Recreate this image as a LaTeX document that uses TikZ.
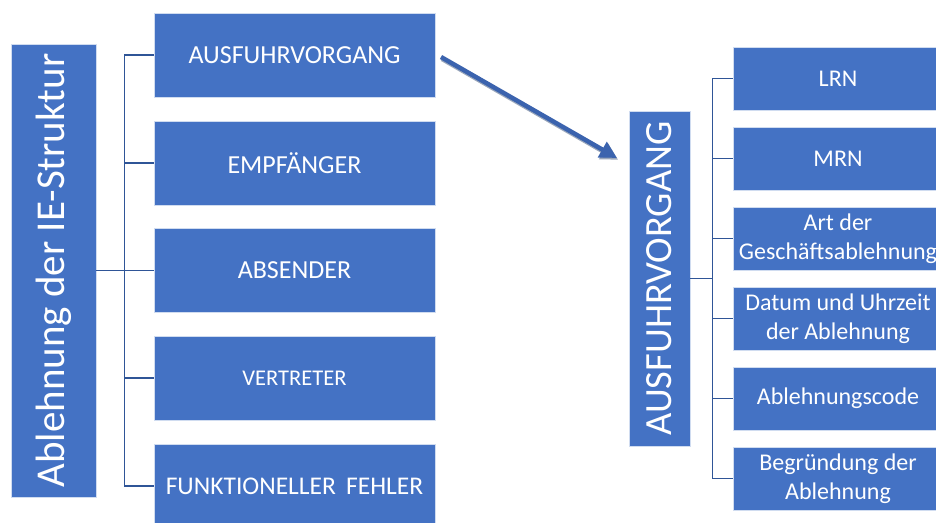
\documentclass[tikz,border=0pt]{standalone}
\usepackage{fontspec}
\setmainfont{Carlito}
\usetikzlibrary{arrows.meta}
\definecolor{boxblue}{HTML}{4472C4}
\definecolor{linkblue}{HTML}{2F5597}
\definecolor{arrowblue}{HTML}{3B63AE}
\begin{document}
\begin{tikzpicture}[x=1pt,y=-1pt,
  blk/.style={fill=boxblue, draw=white!75!boxblue, line width=0.6pt, text=white, align=center, inner sep=0pt, anchor=center},
  midbox/.style={blk, minimum width=281pt, minimum height=84pt, font=\fontsize{26}{31}\selectfont},
  rbox/.style={blk, minimum width=210pt, minimum height=63pt, font=\fontsize{24}{29}\selectfont},
  conn/.style={draw=linkblue, line width=1.3pt}]
\clip (0,0) rectangle (936,522);
\fill[white] (0,0) rectangle (936,522);

% left column
\node[blk, minimum width=85pt, minimum height=453pt] (L) at (53.5,270.5)
  {\rotatebox{90}{\fontsize{41}{49}\selectfont Ablehnung der IE-Struktur}};

% middle column
\node[midbox] (m1) at (294.5,55) {AUSFUHRVORGANG};
\node[midbox] (m2) at (294.5,163) {EMPFÄNGER};
\node[midbox] (m3) at (294.5,270.5) {ABSENDER};
\node[midbox, font=\fontsize{22.5}{27}\selectfont] (m4) at (294.5,378) {VERTRETER};
\node[midbox, font=\fontsize{25.5}{30}\selectfont] (m5) at (294.5,486) {FUNKTIONELLER\hspace{0.4em}FEHLER};

% right vertical
\node[blk, minimum width=61pt, minimum height=335pt] (R) at (659.5,278.5)
  {\rotatebox{90}{\fontsize{38.5}{46}\selectfont AUSFUHRVORGANG}};

% right boxes
\node[rbox] (r1) at (838,78.5) {LRN};
\node[rbox] (r2) at (838,158.5) {MRN};
\node[rbox] (r3) at (838,238.5) {Art der\\Geschäftsablehnung};
\node[rbox] (r4) at (838,318.5) {Datum und Uhrzeit\\der Ablehnung};
\node[rbox] (r5) at (838,398.5) {Ablehnungscode};
\node[rbox] (r6) at (838,478.5) {Begründung der\\Ablehnung};

% left connectors
\draw[conn] (L.east) -- ++(28,0) coordinate (lt);
\draw[conn] (lt |- m1.west) -- (lt |- m5.west);
\foreach \n in {m1,m2,m3,m4,m5} \draw[conn] (lt |- \n.west) -- (\n.west);

% right connectors
\draw[conn] (R.east) -- ++(22,0) coordinate (rt);
\draw[conn] (rt |- r1.west) -- (rt |- r6.west);
\foreach \n in {r1,r2,r3,r4,r5,r6} \draw[conn] (rt |- \n.west) -- (\n.west);

% arrow
\coordinate (as) at (441,57);
\coordinate (ae) at (617,158);
\draw[line width=5pt, draw=linkblue!70!black, opacity=0.45, -{Triangle[length=17pt,width=17pt]}]
  ([shift={(1.2,1.8)}]as) -- ([shift={(1.2,1.8)}]ae);
\draw[line width=4.5pt, draw=arrowblue, -{Triangle[length=17pt,width=17pt]}] (as) -- (ae);
\end{tikzpicture}
\end{document}
